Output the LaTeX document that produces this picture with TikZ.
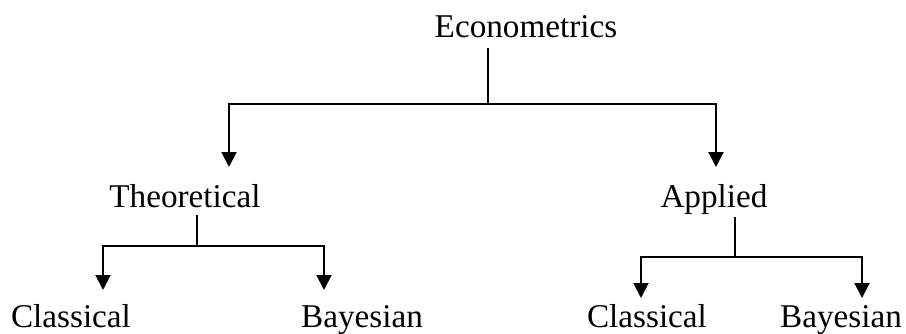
\documentclass[tikz,border=0pt]{standalone}
\usepackage{fontspec}
\setmainfont{Liberation Serif}
\usetikzlibrary{arrows.meta}

\begin{document}
\begin{tikzpicture}[
  x=1pt, y=1pt,
  lbl/.style={inner sep=0pt, anchor=base, font=\fontsize{33.2}{40}\selectfont},
  link/.style={line width=2pt},
  arrow/.style={-{Triangle[width=15pt,length=15pt]}, line width=2pt}
]
\useasboundingbox (0,0) rectangle (906,333);

%% Labels
\node[lbl] at (526,296) (econ)  {Econometrics};
\node[lbl] at (185,126) (theo)  {Theoretical};
\node[lbl] at (714,126) (appl)  {Applied};
\node[lbl] at (71,6)    (tcla)  {Classical};
\node[lbl] at (362,6)   (tbay)  {Bayesian};
\node[lbl] at (647,6)   (acla)  {Classical};
\node[lbl] at (841,6)   (abay)  {Bayesian};

%% Branch points
\coordinate (e0) at (488,285);
\coordinate (e1) at (488,229);
\coordinate (eL) at (229,166);
\coordinate (eR) at (716,166);
\coordinate (t0) at (197,118);
\coordinate (t1) at (197,87);
\coordinate (tL) at (103,43);
\coordinate (tR) at (324,43);
\coordinate (a0) at (735,116);
\coordinate (a1) at (735,76);
\coordinate (aL) at (641,35);
\coordinate (aR) at (862,35);

%% Connectors
\draw[link]  (e0) -- (e1);
\draw[arrow] (e1) -| (eL);
\draw[arrow] (e1) -| (eR);
\draw[link]  (t0) -- (t1);
\draw[arrow] (t1) -| (tL);
\draw[arrow] (t1) -| (tR);
\draw[link]  (a0) -- (a1);
\draw[arrow] (a1) -| (aL);
\draw[arrow] (a1) -| (aR);
\end{tikzpicture}
\end{document}
